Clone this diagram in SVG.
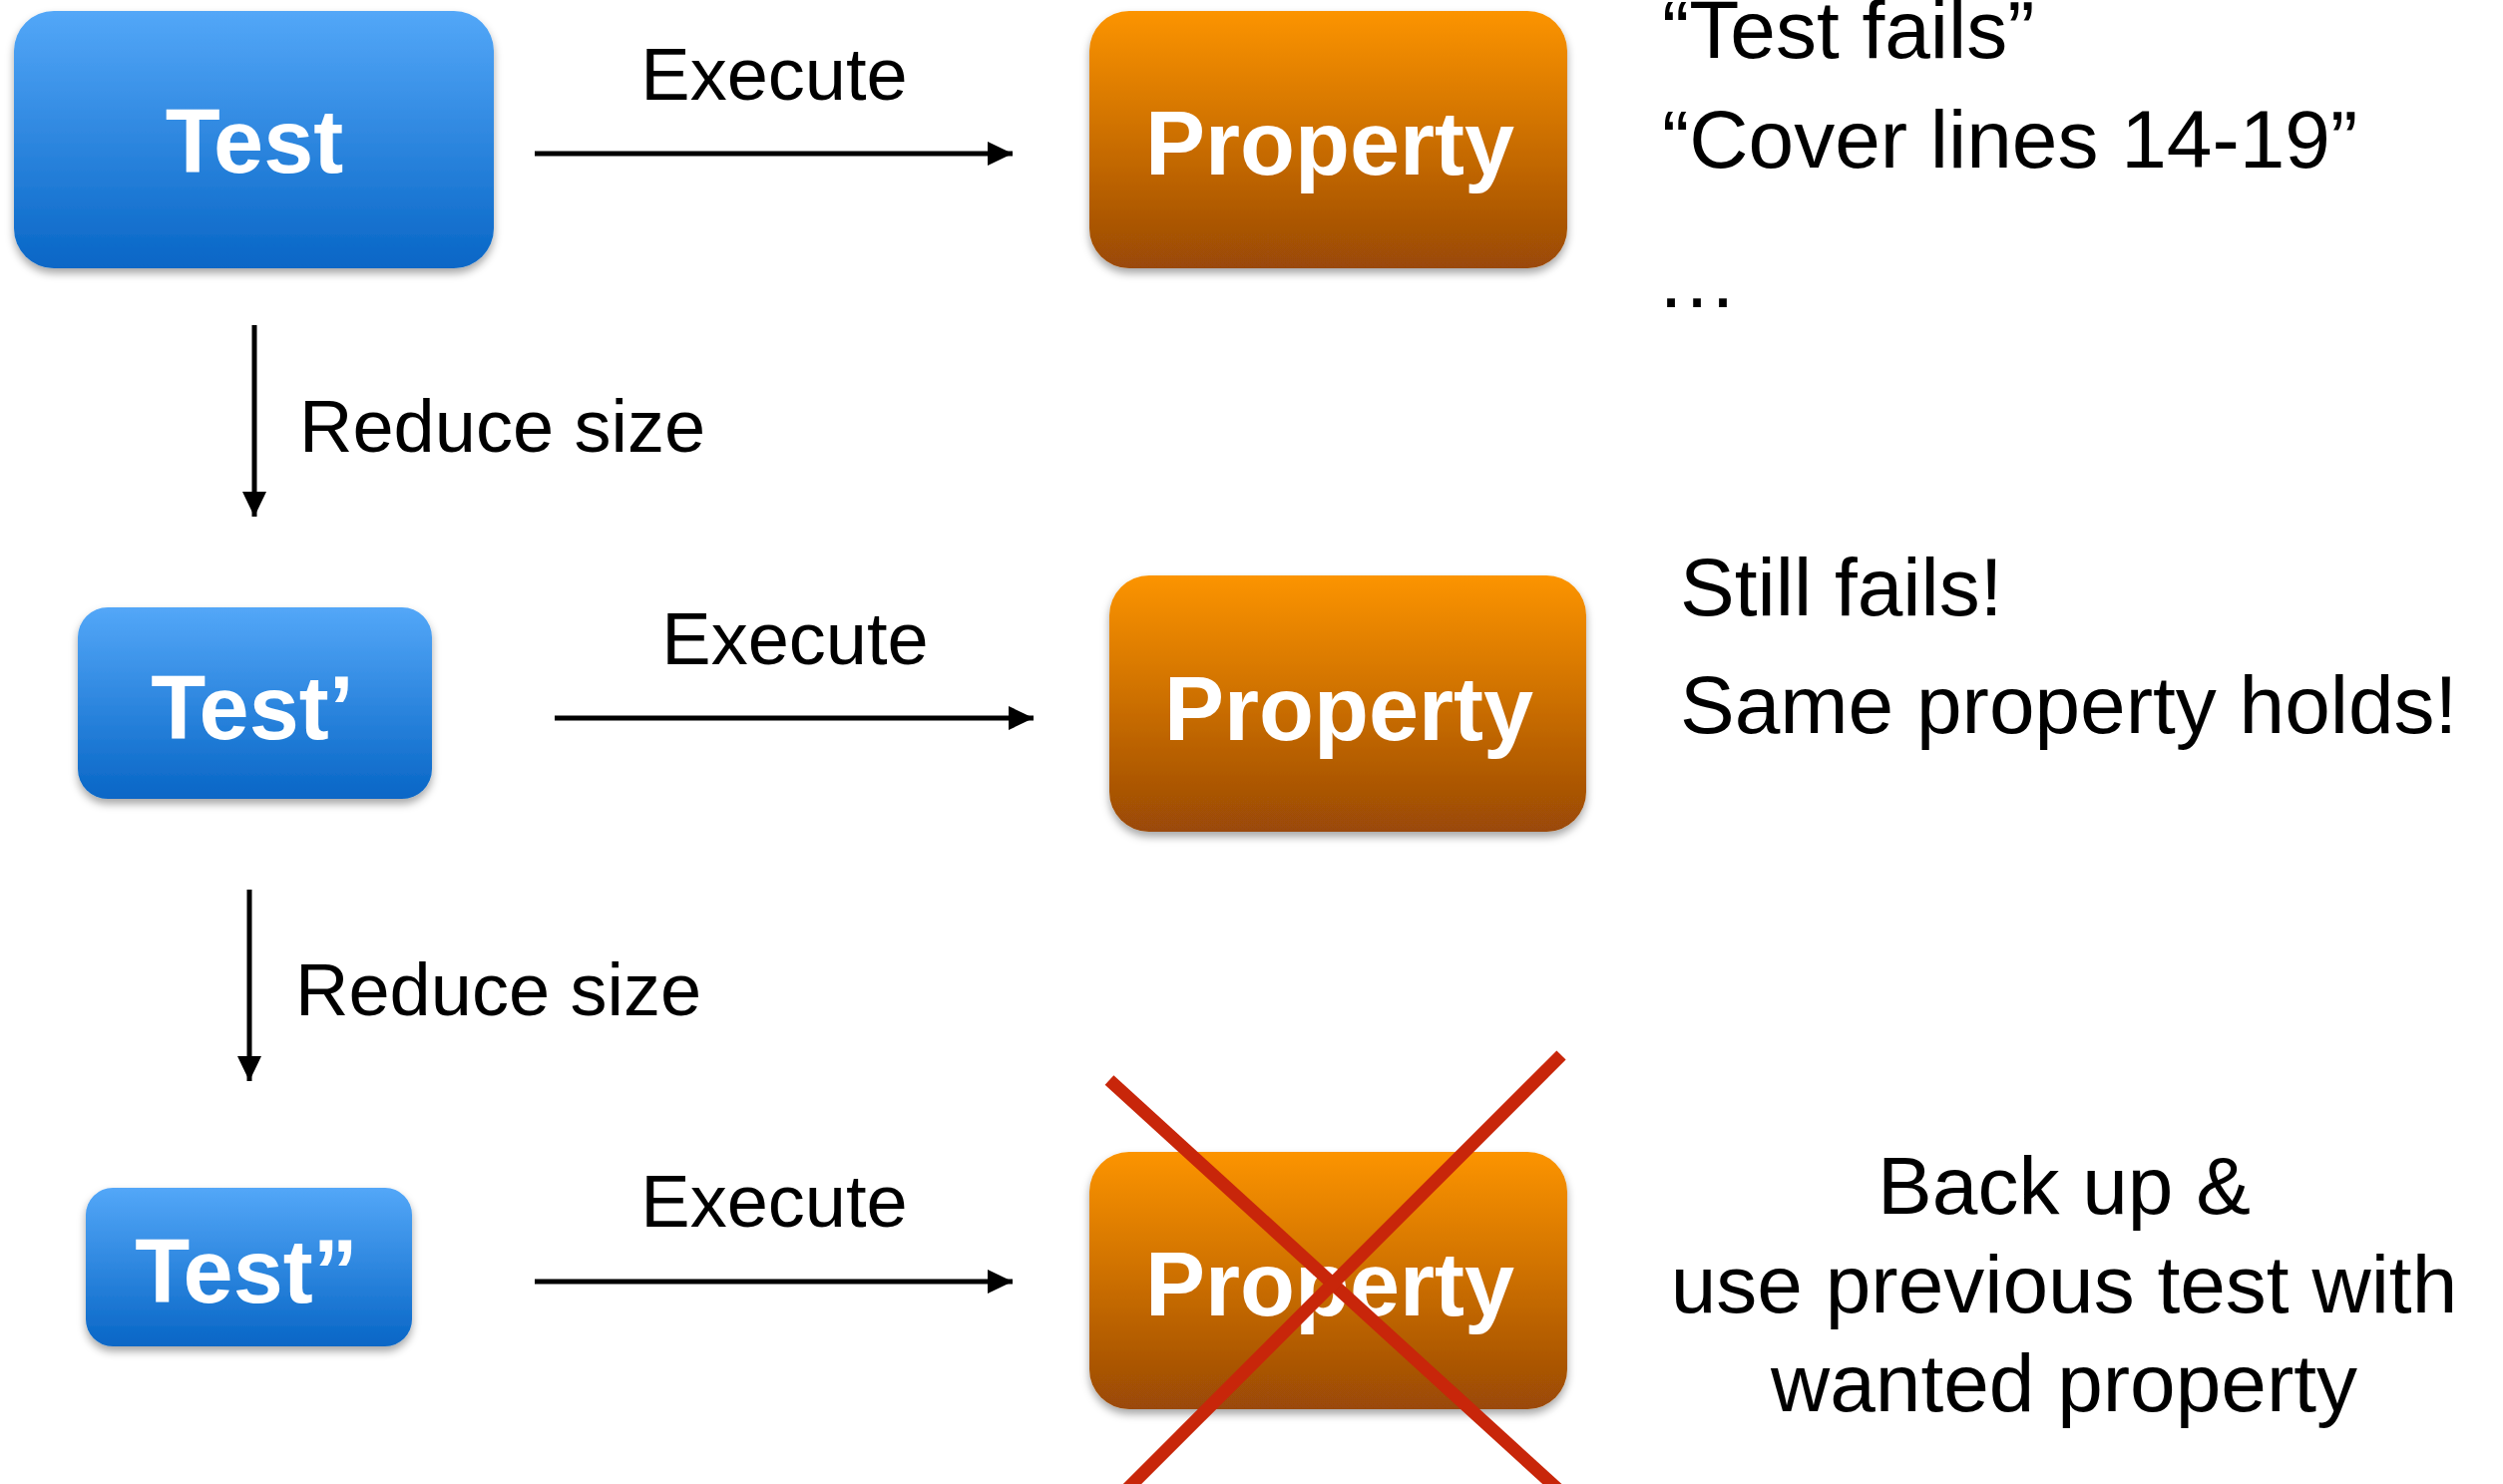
<svg xmlns="http://www.w3.org/2000/svg" width="2509" height="1488" viewBox="0 0 2509 1488">
<defs>
<linearGradient id="blue" x1="0" y1="0" x2="0" y2="1">
<stop offset="0" stop-color="#53A7F8"/>
<stop offset="1" stop-color="#0866C6"/>
</linearGradient>
<linearGradient id="orange" x1="0" y1="0" x2="0" y2="1">
<stop offset="0" stop-color="#FC9400"/>
<stop offset="1" stop-color="#9A4907"/>
</linearGradient>
<filter id="shadow" x="-10%" y="-10%" width="120%" height="130%">
<feDropShadow dx="0" dy="5" stdDeviation="4" flood-color="#000" flood-opacity="0.35"/>
</filter>
<marker id="ah" viewBox="0 0 25 24" refX="25" refY="12" markerWidth="25" markerHeight="24" markerUnits="userSpaceOnUse" orient="auto">
<path d="M0,0 L25,12 L0,24 Z" fill="#000"/>
</marker>
</defs>
<style>
.node text{font-family:"Liberation Sans",Arial,sans-serif;font-weight:bold;font-size:90px;fill:#fff;text-anchor:middle}
.lbl{font-family:"Liberation Sans",Arial,sans-serif;font-size:74px;fill:#000}
.note{font-family:"Liberation Sans",Arial,sans-serif;font-size:82px;fill:#000}
.conn line{stroke:#000;stroke-width:5;marker-end:url(#ah)}
</style>
<rect width="2509" height="1488" fill="#fff"/>

<g id="test1" class="node">
<rect x="14" y="11" width="481" height="258" rx="40" fill="url(#blue)" filter="url(#shadow)"/>
<text x="255" y="173">Test</text>
</g>
<g id="property1" class="node">
<rect x="1092" y="11" width="479" height="258" rx="40" fill="url(#orange)" filter="url(#shadow)"/>
<text x="1333" y="175">Property</text>
</g>
<g id="test2" class="node">
<rect x="78" y="609" width="355" height="192" rx="30" fill="url(#blue)" filter="url(#shadow)"/>
<text x="253" y="741">Test’</text>
</g>
<g id="property2" class="node">
<rect x="1112" y="577" width="478" height="257" rx="40" fill="url(#orange)" filter="url(#shadow)"/>
<text x="1352" y="742">Property</text>
</g>
<g id="test3" class="node">
<rect x="86" y="1191" width="327" height="159" rx="27" fill="url(#blue)" filter="url(#shadow)"/>
<text x="247" y="1306">Test”</text>
</g>
<g id="property3" class="node">
<rect x="1092" y="1155" width="479" height="258" rx="40" fill="url(#orange)" filter="url(#shadow)"/>
<text x="1333" y="1319">Property</text>
</g>

<g id="connectors" class="conn">
<line x1="536" y1="154" x2="1015" y2="154"/>
<line x1="556" y1="720" x2="1036" y2="720"/>
<line x1="536" y1="1285" x2="1015" y2="1285"/>
<line x1="255" y1="326" x2="255" y2="518"/>
<line x1="250" y1="892" x2="250" y2="1084"/>
</g>

<g id="labels">
<text class="lbl" x="776" y="100" text-anchor="middle">Execute</text>
<text class="lbl" x="797" y="666" text-anchor="middle">Execute</text>
<text class="lbl" x="776" y="1230" text-anchor="middle">Execute</text>
<text class="lbl" x="300" y="453">Reduce size</text>
<text class="lbl" x="296" y="1018">Reduce size</text>
</g>

<g id="notes">
<text class="note" x="1666" y="58">“Test fails”</text>
<text class="note" x="1666" y="168">“Cover lines 14-19”</text>
<text class="note" x="1660" y="308">…</text>
<text class="note" x="1684" y="617">Still fails!</text>
<text class="note" x="1684" y="735">Same property holds!</text>
<text class="note" x="2069" y="1217" text-anchor="middle">Back up &amp;</text>
<text class="note" x="2069" y="1316" text-anchor="middle">use previous test with</text>
<text class="note" x="2069" y="1415" text-anchor="middle">wanted property</text>
</g>

<g id="cross" stroke="#C8260A" stroke-width="13" stroke-linecap="butt">
<line x1="1112" y1="1083" x2="1569" y2="1500"/>
<line x1="1565" y1="1058" x2="1123" y2="1500"/>
</g>
</svg>
